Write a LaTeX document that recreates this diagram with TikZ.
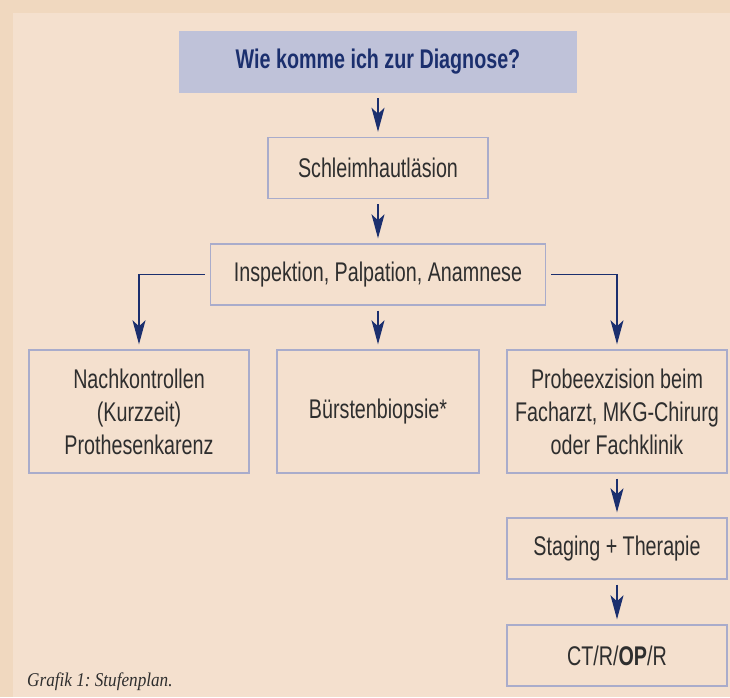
\documentclass[tikz,border=0pt]{standalone}
\usepackage{fontspec}
\setmainfont{Liberation Serif}
\newfontfamily\condsans{Liberation Sans}[FakeStretch=0.73]
\newfontfamily\capserif{Liberation Serif}[FakeStretch=0.88]
\usetikzlibrary{arrows.meta}
\frenchspacing
\definecolor{band}{HTML}{F0D8BF}
\definecolor{paper}{HTML}{F4E0CE}
\definecolor{headfill}{HTML}{BFC2D9}
\definecolor{navy}{HTML}{1B2F6E}
\definecolor{frame}{HTML}{A9ACCB}
\definecolor{ink}{HTML}{2E2E2E}

\begin{document}
\begin{tikzpicture}[x=1pt,y=-1pt,
  step box/.style={draw=frame, line width=1.4pt, fill=paper, inner sep=0pt,
    minimum width=220pt, minimum height=61pt, align=center, text=ink,
    font=\condsans\fontsize{27}{33}\selectfont},
  head box/.style={fill=headfill, inner sep=0pt, minimum width=398pt,
    minimum height=62pt, text=navy, font=\condsans\bfseries\fontsize{27}{33}\selectfont},
  flow/.style={draw=navy, line width=1.3pt, shorten <=5pt, shorten >=5pt},
  >={Stealth[length=24pt,width=13pt,inset=6pt]}]

\useasboundingbox (0,0) rectangle (730,697);
\fill[band] (0,0) rectangle (730,697);
\fill[paper] (13,13) rectangle (730,697);

\node[head box] (frage) at (378,62) {Wie komme ich zur Diagnose?};
\node[step box] (laesion) at (378,168) {Schleimhautläsion};
\node[step box, minimum width=335pt] (insp) at (378,274.5) {Inspektion, Palpation, Anamnese};

\node[step box, minimum height=123pt] (nachk) at (139,411.5) {Nachkontrollen\\(Kurzzeit)\\Prothesenkarenz};
\node[step box, minimum height=123pt, minimum width=202pt] (buerste) at (378,411.5) {Bürstenbiopsie*};
\node[step box, minimum height=123pt] (probe) at (617,411.5) {Probeexzision beim\\Facharzt, MKG-Chirurg\\oder Fachklinik};
\node[step box] (staging) at (617,548.5) {Staging + Therapie};
\node[step box] (ct) at (617,655.5) {CT/R/\textbf{OP}/R};

\node[anchor=base west, inner sep=0pt, text=ink, font=\capserif\itshape\fontsize{19.5}{22}\selectfont] (caption) at (27,686) {Grafik 1: Stufenplan.};

\begin{scope}[->]
\draw[flow] (frage) -- (laesion);
\draw[flow] (laesion) -- (insp);
\draw[flow] (insp) -- (buerste);
\draw[flow] (insp.west) -| (nachk.north);
\draw[flow] (insp.east) -| (probe.north);
\draw[flow] (probe) -- (staging);
\draw[flow] (staging) -- (ct);
\end{scope}
\end{tikzpicture}
\end{document}
